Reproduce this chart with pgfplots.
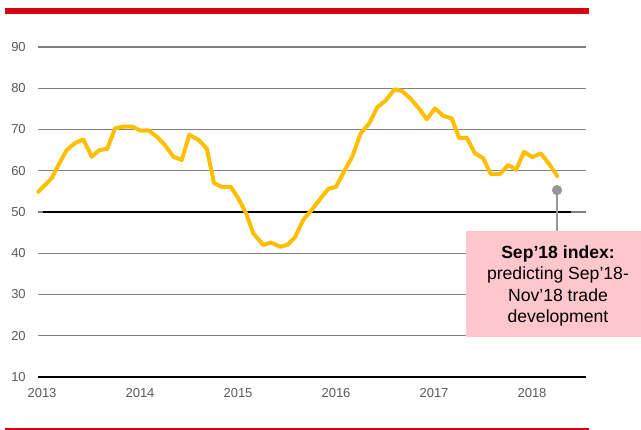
\documentclass[border=0pt]{standalone}
\usepackage{fontspec}
\setmainfont{Liberation Sans}
\usepackage{pgfplots}
\pgfplotsset{compat=1.18}
\definecolor{dhlred}{HTML}{D40511}
\definecolor{amber}{HTML}{FFBE00}
\definecolor{gridgray}{HTML}{808080}
\definecolor{labgray}{HTML}{595959}
\definecolor{boxpink}{HTML}{FFC7CB}
\definecolor{dotgray}{HTML}{969696}
\begin{document}
\begin{tikzpicture}
\begin{axis}[
  name=ax,
  scale only axis,
  width=411pt, height=247.5pt,
  xmin=2012.959, xmax=2018.551,
  ymin=10, ymax=90,
  axis line style={draw=none},
  clip=false,
  xtick={2013,2014,2015,2016,2017,2018},
  xticklabels={2013,2014,2015,2016,2017,2018},
  ytick={10,20,...,90},
  major tick length=0pt,
  ymajorgrids,
  grid style={gridgray, line width=0.9pt},
  tick label style={font=\fontsize{9.75}{12}\selectfont, text=labgray},
  /pgf/number format/assume math mode=true,
  yticklabel style={anchor=east, inner sep=0pt, xshift=-9pt},
  xticklabel style={anchor=north, inner sep=0pt, yshift=-8.5pt},
]
% frame decorations
\fill[dhlred] (axis description cs:-0.06022,1.11818) rectangle (axis description cs:1.00547,1.1);
\draw[dhlred, line width=0.9pt] (axis description cs:-0.06022,-0.15758) -- (axis description cs:1.00547,-0.15758);
\draw[black, line width=1.3pt] (axis description cs:0,0) -- (axis description cs:1,0);
% 50 threshold line
\addplot[black, line width=1.4pt] coordinates {(2013.01,50) (2018.40,50)};
% index series
\addplot[amber, line width=3pt, line join=round, line cap=round] coordinates {
(2012.962,54.9) (2013.099,58.2) (2013.177,61.8) (2013.252,65.0) (2013.337,66.7) (2013.421,67.6)
(2013.507,63.4) (2013.585,65.0) (2013.666,65.3) (2013.745,70.3) (2013.837,70.7) (2013.921,70.7)
(2014.007,69.7) (2014.085,69.8) (2014.170,68.3) (2014.255,66.2) (2014.340,63.4) (2014.426,62.6)
(2014.503,68.7) (2014.595,67.5) (2014.681,65.4) (2014.755,57.0) (2014.844,56.0) (2014.926,56.1)
(2015.003,53.3) (2015.082,49.7) (2015.156,44.8) (2015.258,42.0) (2015.337,42.6) (2015.429,41.6)
(2015.503,42.0) (2015.582,43.9) (2015.666,48.1) (2015.752,50.5) (2015.830,52.9) (2015.921,55.6)
(2016.000,56.1) (2016.082,59.8) (2016.166,63.4) (2016.252,69.1) (2016.340,71.5) (2016.421,75.4)
(2016.507,77.0) (2016.595,79.7) (2016.670,79.4) (2016.755,77.6) (2016.840,75.3) (2016.926,72.5)
(2017.010,75.1) (2017.095,73.3) (2017.181,72.7) (2017.258,67.9) (2017.334,68.0) (2017.418,64.2)
(2017.503,63.0) (2017.579,59.2) (2017.673,59.2) (2017.758,61.4) (2017.837,60.2) (2017.918,64.6)
(2018.003,63.3) (2018.089,64.2) (2018.176,61.6) (2018.258,58.7)
};
% Sep'18 index marker
\addplot[dotgray, line width=1pt] coordinates {(2018.255,55.3) (2018.255,44)};
\addplot[only marks, mark=*, mark size=3.6pt, dotgray] coordinates {(2018.255,55.3)};
% annotation box
\fill[boxpink] (axis cs:2017.327,45.39) rectangle (axis cs:2019.204,19.70);
\node[align=center, font=\fontsize{13.2}{16}\selectfont, text=black] at (axis cs:2018.265,32.1)
  {\textbf{Sep’18 index:}\\predicting Sep’18-\\Nov’18 trade\\development};
\coordinate (tl) at (axis description cs:-0.06934,1.14242);
\coordinate (br) at (axis description cs:1.10036,-0.16061);
\end{axis}
\pgfresetboundingbox
\path[use as bounding box] (tl) rectangle (br);
\end{tikzpicture}
\end{document}
